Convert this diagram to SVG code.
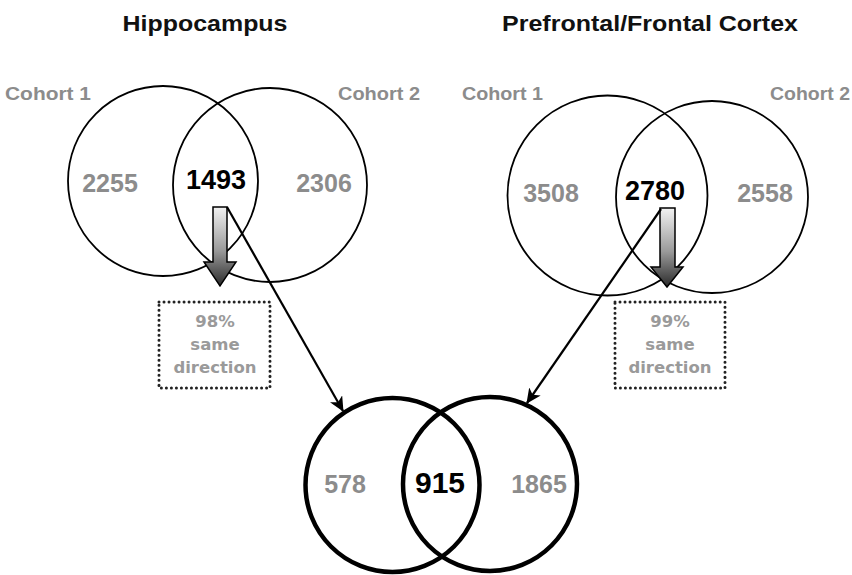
<svg xmlns="http://www.w3.org/2000/svg" width="852" height="575" viewBox="0 0 852 575">
<defs>
<linearGradient id="grad" x1="0" y1="0" x2="0" y2="1">
<stop offset="0" stop-color="#f2f2f2"/>
<stop offset="0.55" stop-color="#9a9a9a"/>
<stop offset="1" stop-color="#2a2a2a"/>
</linearGradient>
<marker id="ah" viewBox="0 0 15 14" refX="14" refY="7" markerWidth="15" markerHeight="14" markerUnits="userSpaceOnUse" orient="auto">
<path d="M0,0 L15,7 L0,14 L4,7 Z" fill="#000"/>
</marker>
</defs>
<style>
.title{font-family:"Liberation Sans",Arial,sans-serif;font-weight:bold;font-size:22px;fill:#111;text-anchor:middle}
.cohort{font-family:"Liberation Sans",Arial,sans-serif;font-weight:bold;font-size:18px;fill:#8c8c8c}
.num{font-family:"Liberation Sans",Arial,sans-serif;font-weight:bold;font-size:25px;fill:#8c8c8c;text-anchor:middle}
.shared{font-family:"Liberation Sans",Arial,sans-serif;font-weight:bold;font-size:27px;fill:#000;text-anchor:middle}
.thin{fill:none;stroke:#000;stroke-width:1.8}
.thick{fill:none;stroke:#000;stroke-width:4.5}
.blk{fill:url(#grad);stroke:#000;stroke-width:1.5}
.box{fill:none;stroke:#222;stroke-width:3;stroke-linecap:round;stroke-dasharray:0.01 5}
.note{font-family:"DejaVu Sans",sans-serif;font-weight:bold;font-size:16.5px;fill:#9a9a9a;text-anchor:middle}
.conn{fill:none;stroke:#000;stroke-width:2.2}
</style>
<rect width="852" height="575" fill="#fff"/>

<g id="hippocampus">
<text class="title" x="205" y="31" textLength="165" lengthAdjust="spacingAndGlyphs">Hippocampus</text>
<text class="cohort" x="5" y="100" textLength="86" lengthAdjust="spacingAndGlyphs">Cohort 1</text>
<text class="cohort" x="338" y="100" textLength="82" lengthAdjust="spacingAndGlyphs">Cohort 2</text>
<circle class="thin" cx="163" cy="181" r="95"/>
<circle class="thin" cx="270" cy="185" r="97"/>
<text class="num" x="110" y="192">2255</text>
<text class="shared" x="216" y="189">1493</text>
<text class="num" x="324" y="192">2306</text>
<polygon class="blk" points="213,207 227,207 227,262 236,262 220,286 204,262 213,262"/>
</g>

<g id="hippocampus-note">
<rect class="box" x="159" y="302" width="111" height="86"/>
<text class="note" x="215" y="327">98%</text>
<text class="note" x="215" y="350">same</text>
<text class="note" x="215" y="373">direction</text>
</g>

<g id="cortex">
<text class="title" x="650" y="31" textLength="296" lengthAdjust="spacingAndGlyphs">Prefrontal/Frontal Cortex</text>
<text class="cohort" x="462" y="100" textLength="81" lengthAdjust="spacingAndGlyphs">Cohort 1</text>
<text class="cohort" x="770" y="100" textLength="80" lengthAdjust="spacingAndGlyphs">Cohort 2</text>
<circle class="thin" cx="607.5" cy="195.5" r="100"/>
<circle class="thin" cx="712" cy="197" r="96"/>
<text class="num" x="551" y="202">3508</text>
<text class="shared" x="655" y="200">2780</text>
<text class="num" x="765" y="202">2558</text>
<polygon class="blk" points="660,208 675,208 675,267 683,267 667,287 651,267 660,267"/>
</g>

<g id="cortex-note">
<rect class="box" x="615" y="302" width="110" height="86"/>
<text class="note" x="670" y="327">99%</text>
<text class="note" x="670" y="350">same</text>
<text class="note" x="670" y="373">direction</text>
</g>

<g id="combined">
<circle class="thick" cx="392.5" cy="485" r="87"/>
<circle class="thick" cx="490" cy="484" r="87"/>
<text class="num" x="345" y="493">578</text>
<text class="shared" x="440" y="493" style="font-size:30px">915</text>
<text class="num" x="539" y="493">1865</text>
</g>

<g id="connectors">
<line class="conn" x1="227" y1="207" x2="343" y2="411" marker-end="url(#ah)"/>
<line class="conn" x1="661" y1="209" x2="527" y2="403" marker-end="url(#ah)"/>
</g>
</svg>
